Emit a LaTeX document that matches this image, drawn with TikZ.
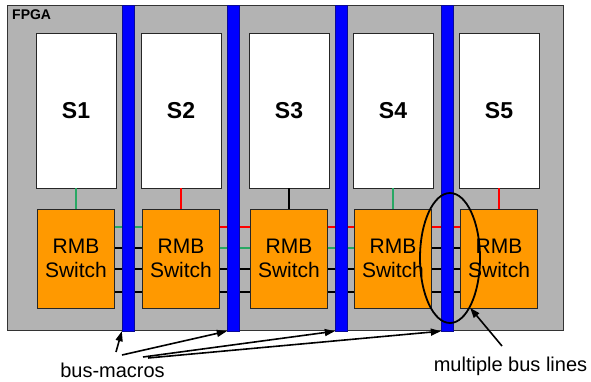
\documentclass[tikz,border=0pt]{standalone}
\usepackage{fontspec}
\setmainfont{Liberation Sans}
\usepackage{tikz}
\usetikzlibrary{arrows.meta,shapes.geometric}

\definecolor{fpgagray}{RGB}{179,179,179}
\definecolor{busblue}{RGB}{0,0,255}
\definecolor{rmborange}{RGB}{255,153,0}
\definecolor{wiregreen}{RGB}{40,168,100}

\begin{document}
\begin{tikzpicture}
	[
	x=1pt, y=-1pt,
	slot/.style={
		draw=black!85,
		fill=white,
		minimum width=80pt,
		minimum height=155pt,
		inner sep=0pt,
		font=\fontsize{23}{27}\selectfont\bfseries
	},
	switch/.style={
		draw=black!85,
		fill=rmborange,
		minimum width=77pt,
		minimum height=99pt,
		inner sep=0pt,
		align=center,
		font=\fontsize{21}{24}\selectfont
	},
	bus/.style={
		draw={rgb,255:red,10;green,10;blue,150},
		fill=busblue,
		minimum width=12pt,
		minimum height=326pt,
		inner sep=0pt
	},
	wire/.style={
		line width=2pt
	},
	arrow/.style={
		-{Triangle[length=10pt,width=7pt]},
		line width=1.6pt
	},
	note/.style={
		font=\fontsize{20}{24}\selectfont,
		inner sep=0pt
	}
	]
	
	\useasboundingbox (0,0) rectangle (591,381);
	
	% FPGA area
	\node[draw=black!80, fill=fpgagray, minimum width=556pt, minimum height=325pt, inner sep=0pt]
	(fpga) at (285,167.5) {};
	\node[anchor=north west, inner sep=2pt, font=\fontsize{14}{16}\selectfont\bfseries]
	(fpga_label) at (10,8) {FPGA};
	
	% Slots
	\node[slot] (slot1) at (76,110.5) {S1};
	\node[slot] (slot2) at (181,110.5) {S2};
	\node[slot] (slot3) at (289,110.5) {S3};
	\node[slot] (slot4) at (393,110.5) {S4};
	\node[slot] (slot5) at (499,110.5) {S5};
	
	% RMB switches
	\node[switch] (rmb1) at (76,258.5) {RMB\\Switch};
	\node[switch] (rmb2) at (181,258.5) {RMB\\Switch};
	\node[switch] (rmb3) at (289,258.5) {RMB\\Switch};
	\node[switch] (rmb4) at (393,258.5) {RMB\\Switch};
	\node[switch] (rmb5) at (499,258.5) {RMB\\Switch};
	
	% Slot to switch
	\draw[wire, wiregreen] (slot1) -- (rmb1);
	\draw[wire, red] (slot2) -- (rmb2);
	\draw[wire, black] (slot3) -- (rmb3);
	\draw[wire, wiregreen] (slot4) -- (rmb4);
	\draw[wire, red] (slot5) -- (rmb5);
	
	% Switch to switch
	\draw[wire, wiregreen] (rmb1.east |- 0,227) -- (rmb2.west |- 0,227);
	\draw[wire, black] (rmb1.east |- 0,248) -- (rmb2.west |- 0,248);
	\draw[wire, black] (rmb1.east |- 0,269) -- (rmb2.west |- 0,269);
	\draw[wire, black] (rmb1.east |- 0,292) -- (rmb2.west |- 0,292);
	
	\draw[wire, red] (rmb2.east |- 0,227) -- (rmb3.west |- 0,227);
	\draw[wire, wiregreen] (rmb2.east |- 0,248) -- (rmb3.west |- 0,248);
	\draw[wire, black] (rmb2.east |- 0,269) -- (rmb3.west |- 0,269);
	\draw[wire, black] (rmb2.east |- 0,292) -- (rmb3.west |- 0,292);
	
	\draw[wire, red] (rmb3.east |- 0,227) -- (rmb4.west |- 0,227);
	\draw[wire, wiregreen] (rmb3.east |- 0,248) -- (rmb4.west |- 0,248);
	\draw[wire, black] (rmb3.east |- 0,269) -- (rmb4.west |- 0,269);
	\draw[wire, black] (rmb3.east |- 0,292) -- (rmb4.west |- 0,292);
	
	\draw[wire, red] (rmb4.east |- 0,227) -- (rmb5.west |- 0,227);
	\draw[wire, black] (rmb4.east |- 0,248) -- (rmb5.west |- 0,248);
	\draw[wire, black] (rmb4.east |- 0,269) -- (rmb5.west |- 0,269);
	\draw[wire, black] (rmb4.east |- 0,292) -- (rmb5.west |- 0,292);
	
	% Bus-macros
	\node[bus] (bar1) at (128,168) {};
	\node[bus] (bar2) at (233,168) {};
	\node[bus] (bar3) at (341,168) {};
	\node[bus] (bar4) at (447,168) {};
	
	\node[draw, ellipse, line width=1.8pt, minimum width=60pt, minimum height=130pt, inner sep=0pt]
	(ring) at (450,258) {};
	
	% Labels
	\node[note, anchor=base] (bus_macros) at (112.5,377) {bus-macros};
	\node[note, anchor=base] (bus_lines) at (510.5,371) {multiple bus lines};
	
	\coordinate (bm1) at (116,352);
	\coordinate (bm2) at (122,355);
	\coordinate (bm3) at (143,357);
	\coordinate (bm4) at (148,358);
	\coordinate (bl) at (502,346);
	
	% Arrows
	\draw[arrow] (bm1) -- (bar1.south west);
	\draw[arrow] (bm2) -- (bar2.south west);
	\draw[arrow] (bm3) -- (bar3.south west);
	\draw[arrow] (bm4) -- (bar4.south west);
	\draw[arrow] (bl) -- (ring.-68);
	
\end{tikzpicture}
\end{document}
